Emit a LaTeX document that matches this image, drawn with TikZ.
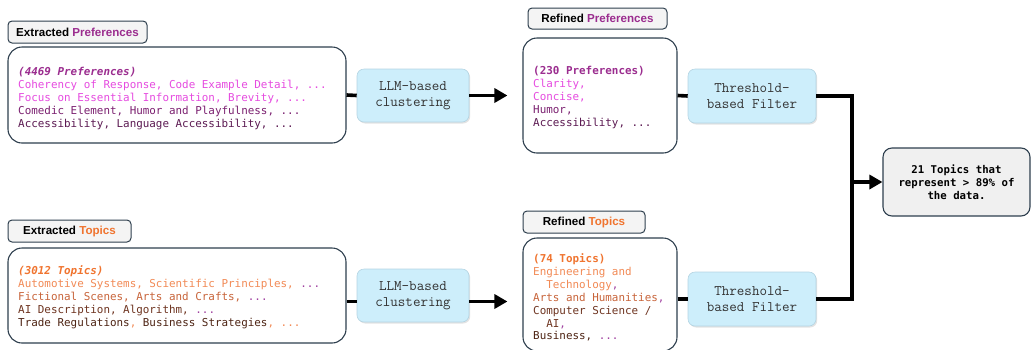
\documentclass[tikz,border=0pt]{standalone}
\usepackage{fontspec}
\setmainfont{Liberation Sans}
\newfontfamily\listfont{DejaVu Sans Mono}
\usetikzlibrary{arrows.meta,shadows}
\definecolor{pHead}{HTML}{9B2D8F}
\definecolor{pMag}{HTML}{E64BE0}
\definecolor{pDa}{HTML}{7B2070}
\definecolor{pDb}{HTML}{5C1A52}
\definecolor{tHead}{HTML}{F0742F}
\definecolor{tLa}{HTML}{F28A55}
\definecolor{tLb}{HTML}{C8643A}
\definecolor{tLc}{HTML}{6E3420}
\definecolor{tLd}{HTML}{4E2414}
\definecolor{dotc}{HTML}{A040A0}
\definecolor{boxline}{HTML}{2E3F4E}
\definecolor{labelfill}{HTML}{F4F4F4}
\definecolor{procfill}{HTML}{CDEEFB}
\definecolor{procline}{HTML}{B4D4E2}
\definecolor{proctext}{HTML}{333333}
\definecolor{finalfill}{HTML}{F0F0F0}
\tikzset{
  bigbox/.style={draw=boxline, line width=1.1pt, rounded corners=14pt, fill=white, inner sep=0pt},
  labelbox/.style={draw=boxline, line width=1pt, rounded corners=4pt, fill=labelfill, inner sep=0pt,
    font=\bfseries\fontsize{11.6}{13}\selectfont},
  procbox/.style={fill=procfill, draw=procline, line width=0.6pt, rounded corners=7pt,
    drop shadow={shadow xshift=1.2pt, shadow yshift=-1.5pt, fill=black!22},
    align=center, inner sep=0pt, minimum width=112pt, minimum height=53pt, text=proctext,
    font=\ttfamily\fontsize{14.6}{16}\selectfont},
  listtext/.style={anchor=north west, inner sep=0pt, align=left,
    font=\listfont\fontsize{10.9}{12.9}\selectfont},
  finalbox/.style={draw=boxline, line width=1.1pt, rounded corners=9pt, fill=finalfill,
    align=center, inner sep=0pt, font=\listfont\bfseries\fontsize{10.7}{13}\selectfont},
  conn/.style={line width=3.6pt, draw=black},
  arr/.style={conn, -{Triangle[length=13pt,width=14pt]}},
}
\begin{document}
\begin{tikzpicture}[x=1pt,y=-1pt]
\useasboundingbox (0,0) rectangle (1031,349);
% ---- left boxes
\node[labelbox, minimum width=139pt, minimum height=22pt] (epl) at (77.5,32) {Extracted \textcolor{pHead}{Preferences}};
\node[bigbox, minimum width=338pt, minimum height=96pt] (ep) at (177,95) {};
\node[listtext] (ept) at (18,67.5) {%
{\bfseries\itshape\color{pHead}(4469 Preferences)}\\
{\color{pMag}Coherency of Response, Code Example Detail, ...}\\
{\color{pMag}Focus on Essential Information, Brevity, ...}\\
{\color{pDa}Comedic Element, Humor and Playfulness, ...}\\
{\color{pDb}Accessibility, Language Accessibility, ...}};

\node[labelbox, minimum width=123pt, minimum height=22pt] (etl) at (69.5,231) {Extracted \textcolor{tHead}{Topics}};
\node[bigbox, minimum width=338pt, minimum height=95pt] (et) at (177,295.5) {};
\node[listtext] (ett) at (18,265.5) {%
{\bfseries\itshape\color{tHead}(3012 Topics)}\\
{\color{tLa}Automotive Systems, Scientific Principles, }{\color{dotc}...}\\
{\color{tLb}Fictional Scenes, Arts and Crafts, }{\color{dotc}...}\\
{\color{tLc}AI Description, Algorithm, }{\color{dotc}...}\\
{\color{tLd}Trade Regulations}{\color{tLa}, }{\color{tLd}Business Strategies}{\color{tLa}, ...}};

% ---- clustering
\node[procbox] (c1) at (413,95.5) {LLM-based\\clustering};
\node[procbox] (c2) at (413,295.5) {LLM-based\\clustering};

% ---- refined
\node[labelbox, minimum width=139pt, minimum height=21pt] (rpl) at (597.5,18.5) {Refined \textcolor{pHead}{Preferences}};
\node[bigbox, minimum width=154pt, minimum height=115pt] (rp) at (600,95.5) {};
\node[listtext] (rpt) at (533,66.5) {%
{\bfseries\color{pHead}(230 Preferences)}\\
{\color{pMag}Clarity,}\\
{\color{pMag}Concise,}\\
{\color{pDa}Humor,}\\
{\color{pDb}Accessibility, ...}};

\node[labelbox, minimum width=122pt, minimum height=22pt] (rtl) at (584,222) {Refined \textcolor{tHead}{Topics}};
\node[bigbox, minimum width=154pt, minimum height=113pt] (rt) at (600,294.5) {};
\node[listtext] (rtt) at (533,253.5) {%
{\bfseries\color{tHead}(74 Topics)}\\
{\color{tLa}Engineering and}\\
{\color{tLa}\hphantom{xx}Technology}{\color{dotc},}\\
{\color{tLb}Arts and Humanities}{\color{dotc},}\\
{\color{tLc}Computer Science /}\\
{\color{tLc}\hphantom{xx}AI}{\color{dotc},}\\
{\color{tLd}Business, }{\color{dotc}...}};

% ---- filters
\node[procbox, minimum width=128pt, minimum height=54pt] (f1) at (752,96) {Threshold-\\based Filter};
\node[procbox, minimum width=128pt, minimum height=54pt] (f2) at (752,299) {Threshold-\\based Filter};

% ---- final
\node[finalbox, minimum width=147pt, minimum height=68pt] (fin) at (956.5,182) {21 Topics that\\represent > 89\% of\\the data.};

% ---- connectors
\coordinate (m) at (852,182);
\draw[conn] (ep.east) -- (c1.west);
\draw[arr, shorten >=15pt] (c1.east) -- (rp.west);
\draw[conn] ([yshift=-6pt]et.east) -- ([yshift=-6pt]c2.west);
\draw[arr, shorten >=15pt] ([yshift=-6pt]c2.east) -- ([yshift=-6pt]c2.east -| rt.west);
\draw[conn] (rp.east) -- (f1.west);
\draw[conn] (rt.east |- f2.west) -- (f2.west);
\draw[conn] (f1.east) -| (m) |- (f2.east);
\draw[arr] (m) -- (fin.west);
\end{tikzpicture}
\end{document}
